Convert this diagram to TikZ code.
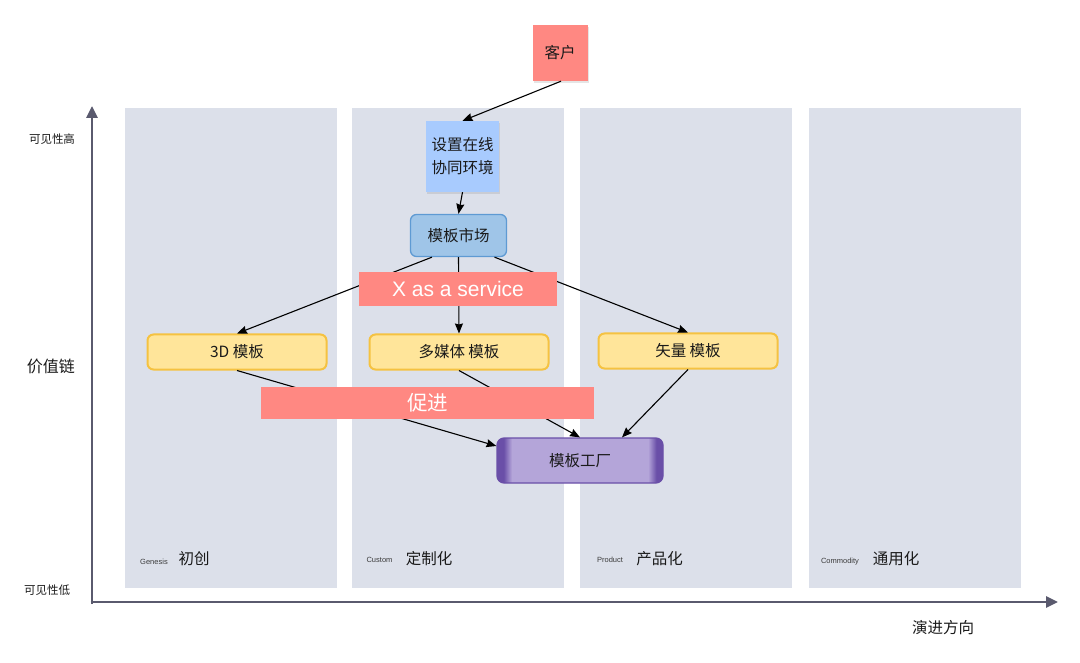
\documentclass[tikz,border=0pt]{standalone}
\usepackage{fontspec}
\setmainfont{Noto Sans CJK SC}
\newfontfamily\latinfont{Liberation Sans}
\usetikzlibrary{arrows.meta,shadows}
\definecolor{colbg}{HTML}{DCE0EA}
\definecolor{redbar}{HTML}{FF8882}
\definecolor{lblue}{HTML}{A8CBFE}
\definecolor{mktfill}{HTML}{9FC5E8}
\definecolor{mktline}{HTML}{5E9AD3}
\definecolor{yfill}{HTML}{FFE59A}
\definecolor{yline}{HTML}{F5C241}
\definecolor{faclight}{HTML}{B4A5D9}
\definecolor{facdark}{HTML}{6A4FA8}
\definecolor{axiscol}{HTML}{5A5A6E}
\definecolor{txt}{HTML}{1A1A1A}
\pgfdeclarehorizontalshading{factoryshade}{100bp}{color(0bp)=(facdark); color(27bp)=(facdark); color(29.5bp)=(faclight); color(70.5bp)=(faclight); color(73bp)=(facdark); color(100bp)=(facdark)}
\tikzset{
  lane/.style={fill=colbg, draw=none},
  axisline/.style={draw=axiscol, line width=2.8pt, -{Triangle[length=12pt,width=11pt]}},
  conn/.style={draw=black, line width=1.1pt, -{Stealth[length=10pt,width=8pt,inset=1pt]}},
  base/.style={inner sep=0pt, text=txt, font=\fontsize{15.5}{23}\selectfont},
  redbox/.style={base, fill=redbar, drop shadow={shadow xshift=1pt, shadow yshift=-2pt, opacity=0.2}},
  bluebox/.style={base, fill=lblue, align=center, drop shadow={shadow xshift=1pt, shadow yshift=-2pt, opacity=0.2}},
  mktbox/.style={base, fill=mktfill, draw=mktline, line width=1.3pt, rounded corners=6pt},
  ybox/.style={base, fill=yfill, draw=yline, line width=2pt, rounded corners=6pt},
  factorybox/.style={base, shading=factoryshade, draw=facdark, line width=1.2pt, rounded corners=7pt},
  bar/.style={inner sep=0pt, fill=redbar, text=white},
  smalllab/.style={inner sep=0pt, text=txt, font=\fontsize{11.5}{13}\selectfont},
  midlab/.style={inner sep=0pt, text=txt, font=\fontsize{16}{18}\selectfont},
  tinylat/.style={inner sep=0pt, text=txt!85, font=\latinfont\fontsize{7.5}{9}\selectfont},
  stagelab/.style={inner sep=0pt, text=txt, font=\fontsize{15.5}{18}\selectfont}
}
\begin{document}
\begin{tikzpicture}[x=1pt,y=-1pt]
\path[use as bounding box, fill=white] (0,0) rectangle (1080,663);
% lanes
\fill[lane] (125,108) rectangle (337,588);
\fill[lane] (352,108) rectangle (564,588);
\fill[lane] (580,108) rectangle (792,588);
\fill[lane] (809,108) rectangle (1021,588);
% axes
\coordinate (ybase) at (92,604);
\coordinate (ytip) at (92,106);
\coordinate (xbase) at (90.6,602);
\coordinate (xtip) at (1058,602);
\draw[axisline] (ybase) -- (ytip);
\draw[axisline] (xbase) -- (xtip);
% axis labels
\node[smalllab] (vhigh) at (52,139) {可见性高};
\node[midlab] (vchain) at (51,366) {价值链};
\node[smalllab] (vlow) at (47,590) {可见性低};
\node[stagelab] (evdir) at (943,628) {演进方向};
% stage labels
\node[tinylat] (gen) at (154,562) {Genesis};
\node[stagelab] (genzh) at (194,559) {初创};
\node[tinylat] (cus) at (379.5,560) {Custom};
\node[stagelab] (cuszh) at (429,559) {定制化};
\node[tinylat] (prod) at (610,560) {Product};
\node[stagelab] (prodzh) at (659.5,559) {产品化};
\node[tinylat] (comm) at (840,562) {Commodity};
\node[stagelab] (commzh) at (896,559) {通用化};
% nodes
\node[redbox, minimum width=55pt, minimum height=56pt] (kehu) at (560,53) {客户};
\node[bluebox, minimum width=73pt, minimum height=71pt] (shezhi) at (462.5,156.5) {设置在线\\协同环境};
\node[mktbox, minimum width=96pt, minimum height=42pt] (mkt) at (458.5,235.5) {模板市场};
\node[ybox, minimum width=179pt, minimum height=35pt] (t3d) at (237,352) {3D 模板};
\node[ybox, minimum width=179pt, minimum height=35pt] (mm) at (459,352) {多媒体 模板};
\node[ybox, minimum width=179pt, minimum height=35pt] (vec) at (688,351) {矢量 模板};
\node[factorybox, minimum width=166pt, minimum height=45pt] (fac) at (580,460.5) {模板工厂};
% connectors
\draw[conn] ([xshift=1pt]kehu.south) -- (shezhi.north);
\draw[conn] (shezhi.south) -- (mkt.north);
\draw[conn] ([xshift=-26.5pt]mkt.south) -- (t3d.north);
\draw[conn] (mkt.south) -- (mm.north);
\draw[conn] ([xshift=36pt]mkt.south) -- (vec.north);
\draw[conn] (t3d.south) -- ([yshift=14.5pt]fac.west);
\draw[conn] (mm.south) -- (fac.north);
\draw[conn] (vec.south) -- ([xshift=42pt]fac.north);
% bars on top
\node[bar, minimum width=198pt, minimum height=34pt, font=\latinfont\fontsize{21}{24}\selectfont] (xaas) at (458,289) {X as a service};
\node[bar, minimum width=333pt, minimum height=32pt, font=\fontsize{20.5}{24}\selectfont] (cujin) at (427.5,403) {促进};
\end{tikzpicture}
\end{document}
